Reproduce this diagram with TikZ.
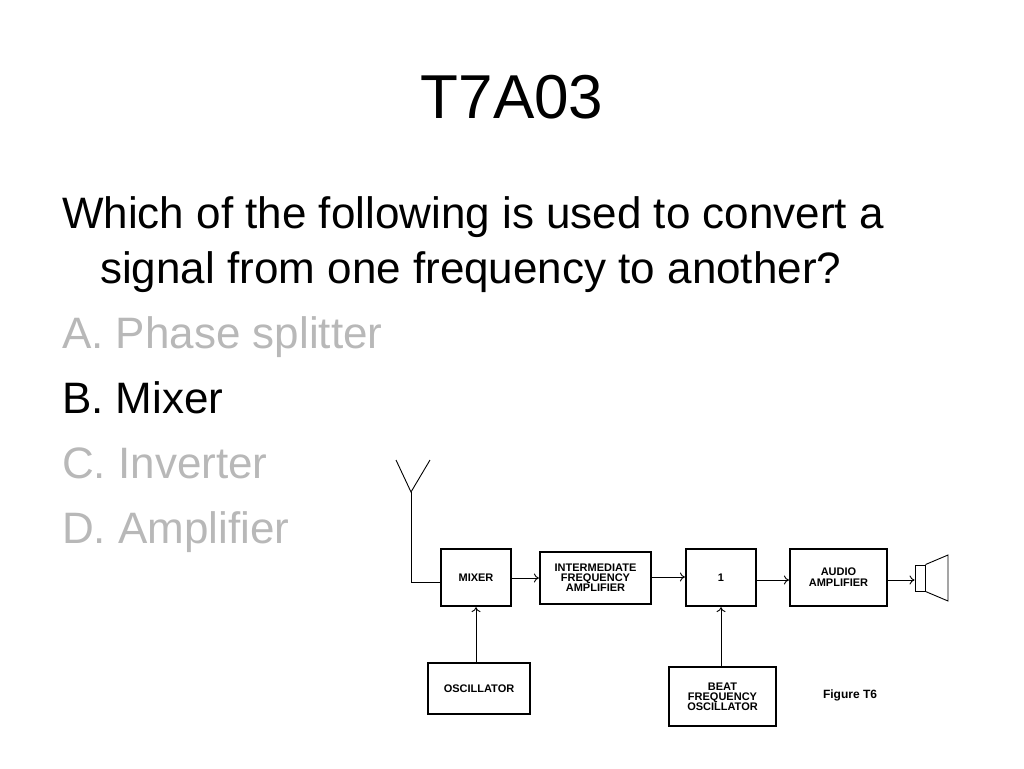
\documentclass[tikz,border=0pt]{standalone}
\usepackage{fontspec}
\setmainfont{Liberation Sans}
\usetikzlibrary{arrows.meta}
\begin{document}
\begin{tikzpicture}[x=1pt,y=-1pt,
  blk/.style={draw,line width=2.2pt,inner sep=0pt,font=\bfseries\fontsize{11}{12}\selectfont,align=center},
  ln/.style={line width=0.9pt},
  arr/.style={ln,-{To[length=5pt,width=9pt]}},
  body/.style={anchor=base west,inner sep=0pt,font=\fontsize{44}{50}\selectfont}]
\useasboundingbox (0,0) rectangle (1024,768);
\node[inner sep=0pt,font=\fontsize{62}{70}\selectfont] (title) at (512,97) {T7A03};
\node[body] (q1) at (62,228) {Which of the following is used to convert a};
\node[body] (q2) at (100,283) {signal from one frequency to another?};
\node[body,text=black!28] (a) at (62,348) {A. Phase splitter};
\node[body] (b) at (62,413) {B. Mixer};
\node[body,text=black!28] (c) at (62,478) {C. Inverter};
\node[body,text=black!28] (d) at (62,543) {D. Amplifier};

\node[blk,minimum width=70pt,minimum height=57pt] (mix) at (476,577.5) {MIXER};
\node[blk,minimum width=111pt,minimum height=52pt] (if) at (595.5,578) {INTERMEDIATE\\[-2pt]FREQUENCY\\[-2pt]AMPLIFIER};
\node[blk,minimum width=70pt,minimum height=57pt] (one) at (721,577.5) {1};
\node[blk,minimum width=97pt,minimum height=57pt] (aud) at (838.5,577.5) {AUDIO\\[-1pt]AMPLIFIER};
\node[blk,minimum width=102pt,minimum height=51pt] (osc) at (479,688.5) {OSCILLATOR};
\node[blk,minimum width=107pt,minimum height=59pt] (bfo) at (722.5,696.5) {BEAT\\[-2pt]FREQUENCY\\[-2pt]OSCILLATOR};
\node[inner sep=0pt,font=\bfseries\fontsize{12}{13}\selectfont] (fig) at (850,695) {Figure T6};

\coordinate (ant) at (411,492);
\coordinate (antb) at (411,582);
\draw[ln] (396,460) -- (ant) -- (430,460);
\draw[ln] (ant) -- (antb) -- (antb -| mix.west);
\draw[arr] (mix.east |- 0,578) -- (if.west |- 0,578);
\draw[arr] (if.east |- 0,577) -- (one.west |- 0,577);
\draw[arr] (one.east |- 0,580) -- (aud.west |- 0,580);
\node[draw,line width=0.9pt,minimum width=10pt,minimum height=26pt,inner sep=0pt] (spk) at (920,578) {};
\draw[arr] (aud.east |- 0,580) -- (spk.west |- 0,580);
\draw[ln] (spk.north east) -- (948,555) -- (948,601) -- (spk.south east);
\draw[arr] (osc.north -| 476,0) -- (mix.south -| 476,0);
\draw[arr] (bfo.north -| 721,0) -- (one.south);
\end{tikzpicture}
\end{document}
